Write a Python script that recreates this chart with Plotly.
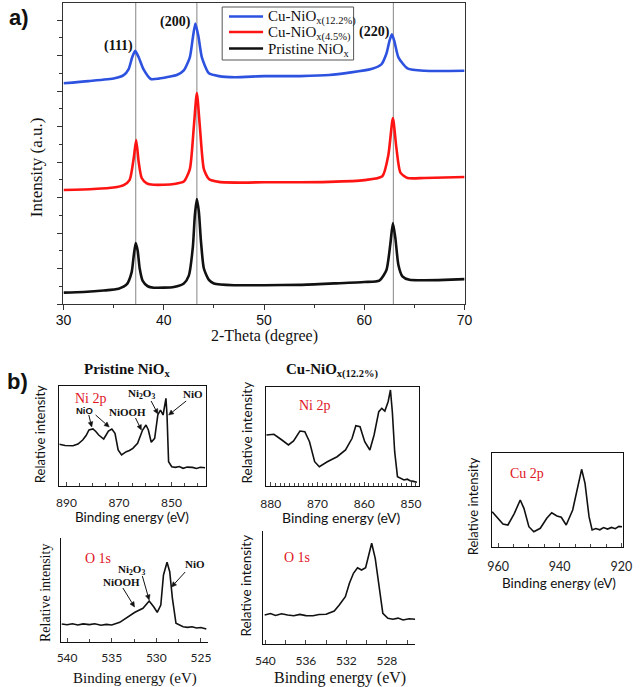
import math
import plotly.graph_objects as go

W, H = 642, 687

# ---------------- Panel a : XRD data ----------------
two_theta_black = [30, 32, 34, 35.5, 36.3, 36.8, 37.0, 37.2, 37.4, 37.6, 37.9, 38.4, 39, 40, 41, 42, 42.5, 42.9,
                   43.1, 43.3, 43.5, 43.7, 44.0, 44.5, 45, 47, 50, 53.6, 57, 60, 61.5, 62.2, 62.6, 62.85, 63.1,
                   63.4, 63.8, 64.5, 66, 68, 70]
int_black = [0.32, 0.34, 0.38, 0.43, 0.55, 0.9, 1.35, 1.72, 1.5, 1.0, 0.65, 0.5, 0.46, 0.46, 0.48, 0.58, 0.8, 1.6,
             2.5, 2.96, 2.6, 1.8, 1.0, 0.68, 0.58, 0.53, 0.53, 0.54, 0.58, 0.62, 0.66, 0.95, 1.7, 2.28, 1.85,
             1.1, 0.78, 0.68, 0.67, 0.68, 0.70]

two_theta_red = [30, 33, 35, 36, 36.6, 37.0, 37.25, 37.5, 37.8, 38.3, 39, 40, 41, 42, 42.6, 43.0, 43.3, 43.6, 44.0,
                 44.5, 45.5, 48, 50, 53.6, 56.5, 60, 61.8, 62.4, 62.85, 63.2, 63.6, 64.3, 66, 70]
int_red = [3.21, 3.24, 3.28, 3.35, 3.5, 4.1, 4.62, 4.0, 3.55, 3.4, 3.36, 3.36, 3.38, 3.45, 3.8, 5.0, 5.94, 5.0, 3.8,
           3.52, 3.44, 3.42, 3.43, 3.43, 3.44, 3.49, 3.6, 4.2, 5.24, 4.4, 3.7, 3.55, 3.55, 3.58]

two_theta_blue = [30, 32.5, 35.1, 36.0, 36.5, 36.85, 37.15, 37.5, 38.0, 38.7, 39.5, 40.5, 41.3, 42.0, 42.6, 42.9,
                  43.15, 43.45, 43.8, 44.5, 45.5, 47.1, 50, 53.6, 56.5, 60.7, 61.7, 62.2, 62.5, 62.75, 63.0, 63.4,
                  64.3, 66, 70]
int_blue = [6.22, 6.28, 6.36, 6.45, 6.62, 6.95, 7.13, 6.95, 6.6, 6.34, 6.35, 6.4, 6.45, 6.58, 6.95, 7.5,
            7.9, 7.55, 6.95, 6.5, 6.42, 6.39, 6.42, 6.42, 6.45, 6.62, 6.75, 7.05, 7.4, 7.6, 7.4, 6.95,
            6.64, 6.57, 6.57]

series_names = ["Cu-NiO<sub>x(12.2%)</sub>", "Cu-NiO<sub>x(4.5%)</sub>", "Pristine NiO<sub>x</sub>"]
series_colors = ["#2d52e0", "#ff1414", "#111111"]
peak_positions = [37.2, 43.3, 62.9]
peak_labels = ["(111)", "(200)", "(220)"]
xrd_ticks = [30, 40, 50, 60, 70]

# ---------------- Panel b : XPS data ----------------
pri_ni_x = [892.7, 890.5, 887.5, 885.6, 883.8, 882.5, 881.4, 879.9, 878.8, 877.7, 875.8, 874.0, 872.7, 871.5, 870.3,
            869.0, 867.2, 866.0, 864.7, 862.9, 861.0, 859.7, 858.8, 857.7, 856.4, 855.2, 854.2, 853.2, 852.1,
            851.7, 851.1, 849.9, 848.5, 847.0, 845.6, 844.0, 842.0, 840.5, 839.0, 837.2]
pri_ni_y = [41.7, 40.5, 40.3, 42.0, 46, 50.5, 56, 57, 54.5, 51, 47, 55, 57, 52.7, 36, 31, 34.3, 35.5, 37.7, 42.7,
            56, 61, 56, 43.7, 47.7, 71, 76, 71, 87.7, 71, 24.3, 19.3, 18.6, 19.5, 17.7, 18.9, 18.6, 17.5, 18.7, 18.3]

cu_ni_x = [880.9, 879.3, 877.6, 876.2, 875.1, 873.75, 872.7, 871.7, 870.6, 869.6, 867.9, 866.8, 865.8, 864.0, 862.6,
           861.8, 860.9, 859.9, 858.8, 857.9, 856.9, 856.25, 855.6, 854.9, 854.4, 854.0, 853.5, 852.9, 852.0,
           851.5, 850.8, 850.2, 849.5, 848.75]
cu_ni_y = [51, 51.7, 46, 41, 45, 55, 54.3, 44.3, 24.3, 19.3, 24.3, 26.5, 29.3, 36, 47.7, 60.3, 59.3, 44.3, 36, 51,
           74.3, 77.7, 75, 84.3, 96, 74.3, 34.3, 9.3, 7.5, 6, 6.8, 5.2, 4.6, 3.7]

pri_o_x = [540.6, 540.0, 539.4, 538.8, 538.2, 537.5, 536.9, 536.2, 535.6, 535.0, 534.1, 533.35, 532.4, 531.5, 530.8,
           530.3, 529.9, 529.5, 529.2, 528.8, 528.5, 528.2, 527.8, 527.0, 526.5, 526.0, 525.5, 525.0, 524.4]
pri_o_y = [18, 17.2, 18.3, 17.0, 18.1, 17.4, 18.2, 16.8, 17.6, 17, 19.7, 24.3, 29.7, 33.7, 41, 35.3, 29.7, 37, 67,
           79.7, 70.3, 43.7, 18.7, 15.3, 14.6, 15.2, 14.0, 14.5, 13]

cu_o_x = [540.07, 539.5, 539.0, 538.4, 537.8, 537.2, 536.6, 536.0, 535.3, 534.7, 534.0, 533.2, 532.7, 532.1, 531.7,
          531.3, 530.9, 530.5, 530.1, 529.8, 529.5, 529.15, 528.7, 528.4, 527.9, 527.4, 526.9, 526.4, 525.8, 525.2]
cu_o_y = [29, 30.5, 28.6, 30.2, 29, 28.2, 29.6, 28.4, 28.3, 29.5, 29.7, 33, 39, 47.3, 60.7, 70.7, 76.3, 74, 76.3,
          87.3, 100.7, 85.7, 52.3, 30.7, 25.7, 24.8, 25.9, 24.0, 25.2, 24.7]

cu_2p_x = [961.9, 960.5, 958.4, 956.8, 954.7, 952.8, 951.6, 950.0, 948.4, 946.3, 944.2, 942.6, 940.9, 939.5, 937.9,
           935.8, 934.2, 932.9, 931.8, 930.5, 929.5, 928.3, 927.0, 925.8, 924.5, 923.2, 922.0, 920.8, 919.8]
cu_2p_y = [35, 30, 22.7, 21.7, 33.4, 46.7, 38.4, 20, 15, 18.4, 28.4, 34, 30.7, 29.4, 21.7, 36.7, 60, 77.4, 63.4,
           30, 16.7, 18.2, 16.9, 19.1, 17.6, 19.3, 18.0, 20.3, 20]

SERIF = "Liberation Serif"
SANS = "Liberation Sans"
B_SANS = "Lato"


def xdom(p0, p1):
    return [p0 / W, p1 / W]


def ydom(top, bottom):
    return [1 - bottom / H, 1 - top / H]


def px(x):
    return x / W


def py(y):
    return 1 - y / H


fig = go.Figure()

# Panel a traces
for xs, ys, name, col in [(two_theta_blue, int_blue, series_names[0], series_colors[0]),
                          (two_theta_red, int_red, series_names[1], series_colors[1]),
                          (two_theta_black, int_black, series_names[2], series_colors[2])]:
    fig.add_trace(go.Scatter(x=xs, y=ys, mode="lines", name=name,
                             line=dict(color=col, width=2.6, shape="spline", smoothing=0.6),
                             xaxis="x", yaxis="y", showlegend=False))

# Panel b traces
panels = [("x2", "y2", pri_ni_x, pri_ni_y), ("x3", "y3", cu_ni_x, cu_ni_y),
          ("x4", "y4", pri_o_x, pri_o_y), ("x5", "y5", cu_o_x, cu_o_y), ("x6", "y6", cu_2p_x, cu_2p_y)]
for xa, ya, xs, ys in panels:
    fig.add_trace(go.Scatter(x=xs, y=ys, mode="lines", line=dict(color="#111", width=1.6), xaxis=xa, yaxis=ya,
                             showlegend=False))

# reference lines in panel a
for p in peak_positions:
    fig.add_shape(type="line", xref="x", yref="y domain", x0=p, x1=p, y0=0, y1=1,
                  line=dict(color="#9a9a9a", width=1.2), layer="below")

# manual legend box (positions in pixels)
fig.add_shape(type="rect", xref="paper", yref="paper", x0=px(220), x1=px(355), y0=py(60), y1=py(7),
              line=dict(color="#555", width=1), fillcolor="white", layer="above")
leg_rows = [16.5, 32, 48.5]
for row, name, col in zip(leg_rows, series_names, series_colors):
    fig.add_shape(type="line", xref="paper", yref="paper", x0=px(227), x1=px(262), y0=py(row), y1=py(row),
                  line=dict(color=col, width=2.6), layer="above")


def arrow(x0, y0, x1, y1):
    """Arrow from tail (x0, y0) to head (x1, y1), in pixel coordinates."""
    d = math.hypot(x1 - x0, y1 - y0)
    ux, uy = (x1 - x0) / d, (y1 - y0) / d
    hl, hw = 5.0, 2.4
    bx, by = x1 - ux * hl, y1 - uy * hl
    fig.add_shape(type="line", xref="paper", yref="paper", x0=px(x0), y0=py(y0), x1=px(bx), y1=py(by),
                  line=dict(color="#111", width=1))
    p1 = (bx - uy * hw, by + ux * hw)
    p2 = (bx + uy * hw, by - ux * hw)
    path = "M {} {} L {} {} L {} {} Z".format(px(x1), py(y1), px(p1[0]), py(p1[1]), px(p2[0]), py(p2[1]))
    fig.add_shape(type="path", xref="paper", yref="paper", path=path, fillcolor="#111",
                  line=dict(color="#111", width=0.5))


# b1 arrows
arrow(83, 415, 86, 427)
arrow(90, 415, 104, 427)
arrow(131, 418, 137, 430)
arrow(147, 401, 154, 414)
arrow(183, 401, 165, 415)
# b3 arrows
arrow(118, 588, 130, 607)
arrow(138, 576, 145, 600)
arrow(182, 572, 168, 587)

line_col = "#333"
common_b = dict(showline=True, linecolor="#111", linewidth=1.3, showgrid=False, zeroline=False)

layout = dict(
    width=W, height=H, margin=dict(l=0, r=0, t=0, b=0), paper_bgcolor="white", plot_bgcolor="white",
    showlegend=False,
    xaxis=dict(domain=xdom(57, 469), range=[30, 70], tickvals=xrd_ticks, ticks="outside", ticklen=5,
               tickcolor=line_col, minor=dict(ticks="outside", ticklen=3, dtick=5, tickcolor=line_col),
               showline=True, mirror=True, linecolor=line_col, linewidth=1.2, showgrid=False, zeroline=False,
               tickfont=dict(family=SANS, size=14, color="#111"), ticklabelstandoff=-2, anchor="y"),
    yaxis=dict(domain=ydom(3, 304), range=[0, 8.48], tickvals=list(range(0, 9)), showticklabels=False,
               ticks="outside", ticklen=5, tickcolor=line_col,
               minor=dict(ticks="outside", ticklen=3, dtick=0.5, tick0=0, tickcolor=line_col),
               showline=True, mirror=True, linecolor=line_col, linewidth=1.2, showgrid=False, zeroline=False,
               anchor="x"),
    # b1 pristine Ni 2p
    xaxis2=dict(domain=xdom(52.7, 203), range=[892.7, 837.0], tickvals=[890, 870, 850], ticks="inside", ticklen=4,
                minor=dict(ticks="inside", ticklen=3, dtick=5, tick0=890), mirror=True, anchor="y2",
                tickfont=dict(family=B_SANS, size=12, color="#222"), ticklabelstandoff=5, **common_b),
    yaxis2=dict(domain=ydom(386, 486), range=[0, 100], showticklabels=False, ticks="", mirror=True, anchor="x2",
                **common_b),
    # b2 Cu Ni 2p
    xaxis3=dict(domain=xdom(265, 421.7), range=[881.0, 848.4], tickvals=[880, 870, 860, 850], ticks="inside",
                ticklen=4, minor=dict(ticks="inside", ticklen=2.5, dtick=1, tick0=880), mirror=True,
                anchor="y3", tickfont=dict(family=B_SANS, size=12, color="#222"), ticklabelstandoff=6,
                **common_b),
    yaxis3=dict(domain=ydom(387.3, 486), range=[0, 98.7], showticklabels=False, ticks="", mirror=True,
                anchor="x3", **common_b),
    # b3 pristine O 1s
    xaxis4=dict(domain=xdom(54, 205), range=[540.73, 524.26], tickvals=[540, 535, 530, 525], ticks="inside",
                ticklen=4, minor=dict(ticks="inside", ticklen=3, dtick=2.5, tick0=540), anchor="y4",
                tickfont=dict(family=B_SANS, size=12, color="#222"), ticklabelstandoff=4, **common_b),
    yaxis4=dict(domain=ydom(538, 642), range=[0, 104], showticklabels=False, ticks="", anchor="x4", **common_b),
    # b4 Cu O 1s
    xaxis5=dict(domain=xdom(262.3, 418.3), range=[540.2, 525.2], tickvals=[540, 536, 532, 528], ticks="inside",
                ticklen=4, minor=dict(ticks="inside", ticklen=4, dtick=2, tick0=540), anchor="y5",
                tickfont=dict(family=B_SANS, size=12, color="#222"), ticklabelstandoff=5, **common_b),
    yaxis5=dict(domain=ydom(531, 644), range=[0, 113], showticklabels=False, ticks="", anchor="x5", **common_b),
    # b5 Cu 2p
    xaxis6=dict(domain=xdom(496.7, 631.7), range=[962.1, 919.5], tickvals=[960, 940, 920], ticks="inside",
                ticklen=4, minor=dict(ticks="inside", ticklen=3, dtick=5, tick0=960), mirror=True, anchor="y6",
                tickfont=dict(family=B_SANS, size=12.5, color="#222"), ticklabelstandoff=8, **common_b),
    yaxis6=dict(domain=ydom(452.7, 546.7), range=[0, 94], showticklabels=False, ticks="", mirror=True,
                anchor="x6", **common_b),
)
fig.update_layout(**layout)

ann = []


def text(x, y, s, family=SERIF, size=14, color="#111", bold=False, angle=0, anchor="center"):
    if bold:
        s = "<b>" + s + "</b>"
    ann.append(dict(x=px(x), y=py(y), xref="paper", yref="paper", text=s, showarrow=False, textangle=angle,
                    font=dict(family=family, size=size, color=color), xanchor=anchor, yanchor="middle"))


# legend texts
for row, name in zip(leg_rows, series_names):
    text(265, row + 1, name, size=15, anchor="left")

# panel a text
text(11, 18, "a)", family=SANS, size=22, bold=True)
text(113, 46, peak_labels[0], size=14, bold=True)
text(172, 22, peak_labels[1], size=14, bold=True)
text(376, 32, peak_labels[2], size=14, bold=True)
text(263, 336, "2-Theta (degree)", size=16)
text(30, 167, "Intensity (a.u.)", size=17, angle=-90)

# panel b text
text(10, 381, "b)", family=SANS, size=22, bold=True)
text(122, 370, "Pristine NiO<sub>x</sub>", size=15, bold=True)
text(333, 370, "Cu-NiO<sub>x(12.2%)</sub>", size=15, bold=True)

# b1
text(33, 434, "Relative intensity", family=B_SANS, size=13, angle=-90)
text(127, 517, "Binding energy (eV)", family=B_SANS, size=13.5)
text(85, 398, "Ni 2p", size=14, color="#e0141e")
text(79, 410, "NiO", family=SANS, size=9.5, bold=True)
text(123, 412, "NiOOH", size=11, bold=True)
text(137, 394, "Ni<sub>2</sub>O<sub>3</sub>", size=11, bold=True)
text(190, 394, "NiO", size=11, bold=True)

# b2
text(245, 433, "Relative intensity", family=B_SANS, size=13.5, angle=-90)
text(342, 517, "Binding energy (eV)", family=B_SANS, size=14)
text(315, 405, "Ni 2p", size=14, color="#e0141e")

# b3
text(38, 593, "Relative intensity", size=14, angle=-90)
text(130, 678, "Binding energy (eV)", size=15)
text(92, 558, "O 1s", size=14, color="#e0141e")
text(127, 570, "Ni<sub>2</sub>O<sub>3</sub>", size=11, bold=True)
text(117, 582, "NiOOH", size=11, bold=True)
text(192, 564, "NiO", size=11, bold=True)

# b4
text(244, 586, "Relative intensity", family=B_SANS, size=13.5, angle=-90)
text(341, 678, "Binding energy (eV)", size=16)
text(297, 557, "O 1s", size=14, color="#e0141e")

# b5
text(478, 506, "Relative intensity", family=B_SANS, size=13, angle=-90)
text(566, 583, "Binding energy (eV)", family=B_SANS, size=13.5)
text(533, 473, "Cu 2p", size=14, color="#e0141e")

fig.update_layout(annotations=ann)
fig.write_html("out.html", config={"displayModeBar": False},
               post_script="document.body.style.margin='0';document.body.style.padding='0';"
                           "document.body.style.overflow='hidden';")
